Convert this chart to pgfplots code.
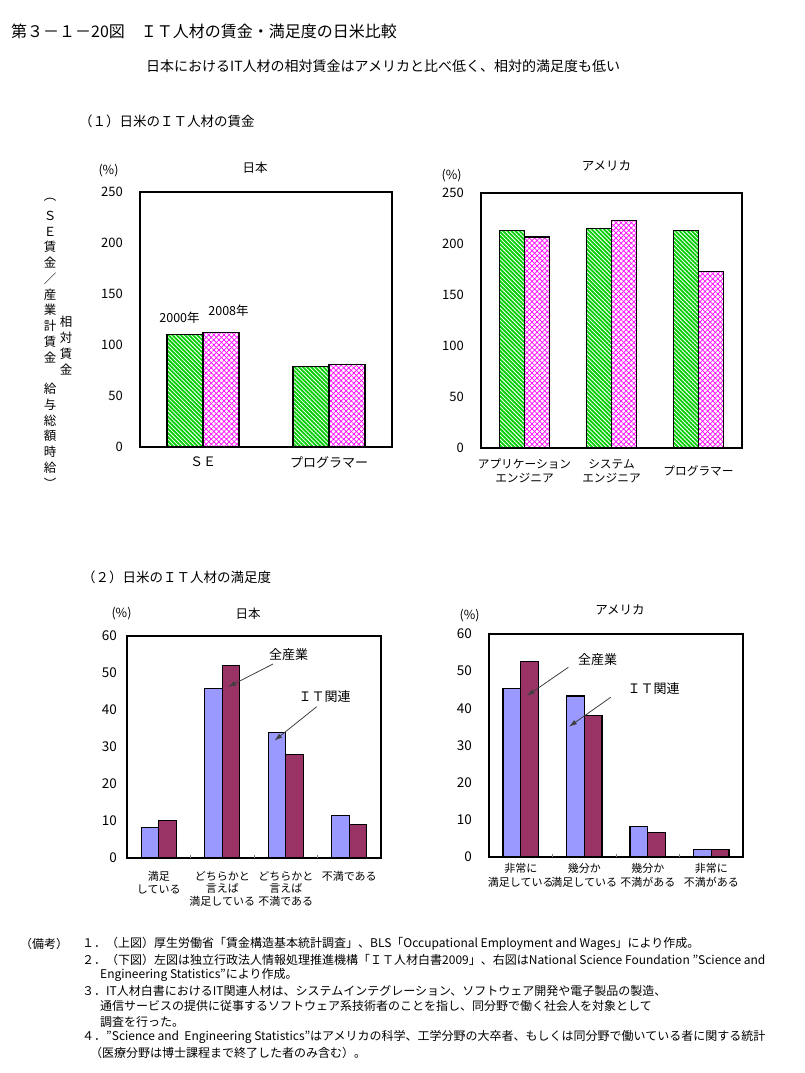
\documentclass[border=0pt]{standalone}
\usepackage{fontspec}
\setmainfont{Noto Sans CJK JP}
\usepackage{pgfplots}
\pgfplotsset{compat=1.18}
\usetikzlibrary{patterns.meta,arrows.meta}
\definecolor{bargreen}{RGB}{0,204,0}
\definecolor{barpink}{RGB}{255,0,255}
\definecolor{barblue}{RGB}{153,153,255}
\definecolor{barred}{RGB}{153,51,102}
\newcommand{\fs}[2]{\fontsize{#1pt}{#2pt}\selectfont}
\pgfplotsset{
  mybase/.style={
    scale only axis, anchor=south west,
    enlargelimits=false, ymin=0,
    major tick length=0pt, tick pos=left,
    /pgf/number format/assume math mode=true,
    yticklabel style={font=\fs{13}{13}, inner sep=0pt, anchor=east},
    xtick=data,
    xticklabel style={align=center, inner sep=0pt},
    clip=false,
  },
  w2000/.style={draw=black, line width=1.3pt,
     pattern={Lines[angle=-45,distance=2.9pt,line width=1.8pt]}, pattern color=bargreen},
  w2008/.style={draw=black, line width=1.3pt,
     pattern={Lines[angle=45,distance=3.6pt,line width=0.7pt]}, pattern color=barpink,
     postaction={pattern={Lines[angle=-45,distance=3.6pt,line width=0.7pt]}, pattern color=barpink}},
  itbar/.style={fill=barblue, draw=black, line width=1.2pt},
  allbar/.style={fill=barred, draw=black, line width=1.2pt},
}
\begin{document}
\begin{tikzpicture}
\useasboundingbox (0,0) rectangle (804pt,-1073pt);

% ---------- (1) Japan wages ----------
\begin{axis}[mybase, at={(140pt,-447pt)}, width=252pt, height=255pt,
  xmin=-0.5, xmax=1.5, ymax=250, ytick={0,50,...,250},
  ybar=0pt, bar width=36pt,
  axis line style={line width=2.8pt},
  yticklabel style={xshift=-17pt},
  xticklabels={ＳＥ,プログラマー},
  xticklabel style={font=\fs{13}{13}, anchor=center, yshift=-15pt}]
\addplot[w2000] coordinates {(0,110) (1,79)};
\addplot[w2008] coordinates {(0,112.5) (1,81)};
\end{axis}

% ---------- (1) US wages ----------
\begin{axis}[mybase, at={(481pt,-448pt)}, width=261pt, height=255pt,
  xmin=-0.5, xmax=2.5, ymax=250, ytick={0,50,...,250},
  ybar=0pt, bar width=24.7pt,
  axis line style={line width=2.8pt},
  yticklabel style={xshift=-17pt},
  xticklabels={{アプリケーション\\エンジニア},{システム\\エンジニア},プログラマー},
  xticklabel style={font=\fs{11.7}{13.7}, anchor=center, yshift=-23pt}]
\addplot[w2000] coordinates {(0,213) (1,215) (2,213)};
\addplot[w2008] coordinates {(0,207) (1,223) (2,173)};
\end{axis}

% ---------- (2) Japan satisfaction ----------
\begin{axis}[mybase, at={(127pt,-858pt)}, width=254pt, height=222pt,
  xmin=-0.5, xmax=3.5, ymax=60, ytick={0,10,...,60},
  ybar=0pt, bar width=17.5pt,
  axis line style={line width=2pt},
  yticklabel style={xshift=-10pt, font=\fs{13.5}{13.5}},
  xticklabels={{満足\\している},{どちらかと\\言えば\\満足している},{どちらかと\\言えば\\不満である},不満である},
  xticklabel style={font=\fs{11}{12.8}, anchor=north, yshift=-13pt},
  extra x ticks={0.5,1.5,2.5}, extra x tick labels={},
  extra x tick style={major tick length=3pt, tick align=inside, tick style={line width=1pt}}]
\addplot[itbar] coordinates {(0,8.2) (1,45.8) (2,33.9) (3,11.4)};
\addplot[allbar] coordinates {(0,10.2) (1,52.0) (2,27.9) (3,9.0)};
\end{axis}

% ---------- (2) US satisfaction ----------
\begin{axis}[mybase, at={(489pt,-857pt)}, width=254pt, height=223pt,
  xmin=-0.5, xmax=3.5, ymax=60, ytick={0,10,...,60},
  ybar=0pt, bar width=17.8pt,
  axis line style={line width=2pt},
  yticklabel style={xshift=-17pt, font=\fs{13.5}{13.5}},
  xticklabels={{非常に\\満足している},{幾分か\\満足している},{幾分か\\不満がある},{非常に\\不満がある}},
  xticklabel style={font=\fs{11}{14}, anchor=north, yshift=-6pt},
  extra x ticks={0.5,1.5,2.5}, extra x tick labels={},
  extra x tick style={major tick length=3pt, tick align=inside, tick style={line width=1pt}}]
\addplot[itbar] coordinates {(0,45.4) (1,43.3) (2,8.2) (3,2.0)};
\addplot[allbar] coordinates {(0,52.5) (1,38.1) (2,6.6) (3,2.0)};
\end{axis}

\begin{scope}[x=1pt,y=-1pt]
% headings
\node[anchor=west,inner sep=0,font=\fs{16}{16}] at (11,31) {第３－１－20図　ＩＴ人材の賃金・満足度の日米比較};
\node[anchor=west,inner sep=0,font=\fs{14}{14}] at (146,66) {日本におけるIT人材の相対賃金はアメリカと比べ低く、相対的満足度も低い};
\node[anchor=west,inner sep=0,font=\fs{13.5}{13.5}] at (79,121) {（１）日米のＩＴ人材の賃金};
\node[anchor=west,inner sep=0,font=\fs{13.5}{13.5}] at (82,577) {（２）日米のＩＴ人材の満足度};

% chart titles and units
\node[font=\fs{12.5}{12.5}] at (255,168) {日本};
\node[font=\fs{12.5}{12.5}] at (108.5,171) {(\%)};
\node[font=\fs{12.5}{12.5}] at (606.5,166) {アメリカ};
\node[font=\fs{12.5}{12.5}] at (451.5,176) {(\%)};
\node[font=\fs{12.5}{12.5}] at (248,614) {日本};
\node[font=\fs{12.5}{12.5}] at (121.5,614) {(\%)};
\node[font=\fs{12.5}{12.5}] at (620,610) {アメリカ};
\node[font=\fs{12.5}{12.5}] at (469.5,616) {(\%)};

% vertical y label
\foreach \c [count=\i from 0] in {︵,Ｓ,Ｅ,賃,金,／,産,業,計,賃,金,{},給,与,総,額,時,給,︶}
  \node[font=\fs{12.5}{12.5},inner sep=0] at (50,{200+\i*15.74}) {\c};
\foreach \c [count=\i from 0] in {相,対,賃,金}
  \node[font=\fs{12.5}{12.5},inner sep=0] at (66,{322+\i*16}) {\c};

% year labels
\node[font=\fs{12.5}{12.5}] at (179.5,318) {2000年};
\node[font=\fs{12.5}{12.5}] at (228.5,311) {2008年};

% annotations
\node[font=\fs{13}{13}] at (288.5,655) {全産業};
\node[font=\fs{13}{13}] at (324.5,697) {ＩＴ関連};
\draw[-{Latex[length=8pt,width=5pt]}, line width=0.8pt, black!75] (273,664) -- (228,687);
\draw[-{Latex[length=8pt,width=5pt]}, line width=0.8pt, black!75] (316.7,706.7) -- (274.3,740.7);
\node[font=\fs{13}{13}] at (597.5,660) {全産業};
\node[font=\fs{13}{13}] at (653.5,689) {ＩＴ関連};
\draw[-{Latex[length=8pt,width=5pt]}, line width=0.8pt, black!75] (568.3,667.3) -- (526.7,696);
\draw[-{Latex[length=8pt,width=5pt]}, line width=0.8pt, black!75] (610.7,697.3) -- (569,726.7);

% notes
\begin{scope}[every node/.style={anchor=west,inner sep=0,font=\fs{12}{12}}]
\node at (20,944) {（備考）};
\node at (82,944) {１．（上図）厚生労働省「賃金構造基本統計調査」、BLS「Occupational Employment and Wages」により作成。};
\node at (82,959.5) {２．（下図）左図は独立行政法人情報処理推進機構「ＩＴ人材白書2009」、右図はNational Science Foundation "Science and};
\node at (100,975) {Engineering Statistics"により作成。};
\node at (82,990.5) {３．IT人材白書におけるIT関連人材は、システムインテグレーション、ソフトウェア開発や電子製品の製造、};
\node at (100,1006) {通信サービスの提供に従事するソフトウェア系技術者のことを指し、同分野で働く社会人を対象として};
\node at (100,1021.5) {調査を行った。};
\node at (82,1037) {４．"Science and\ \ Engineering Statistics"はアメリカの科学、工学分野の大卒者、もしくは同分野で働いている者に関する統計};
\node at (90,1052.5) {（医療分野は博士課程まで終了した者のみ含む）。};
\end{scope}
\end{scope}
\end{tikzpicture}
\end{document}
